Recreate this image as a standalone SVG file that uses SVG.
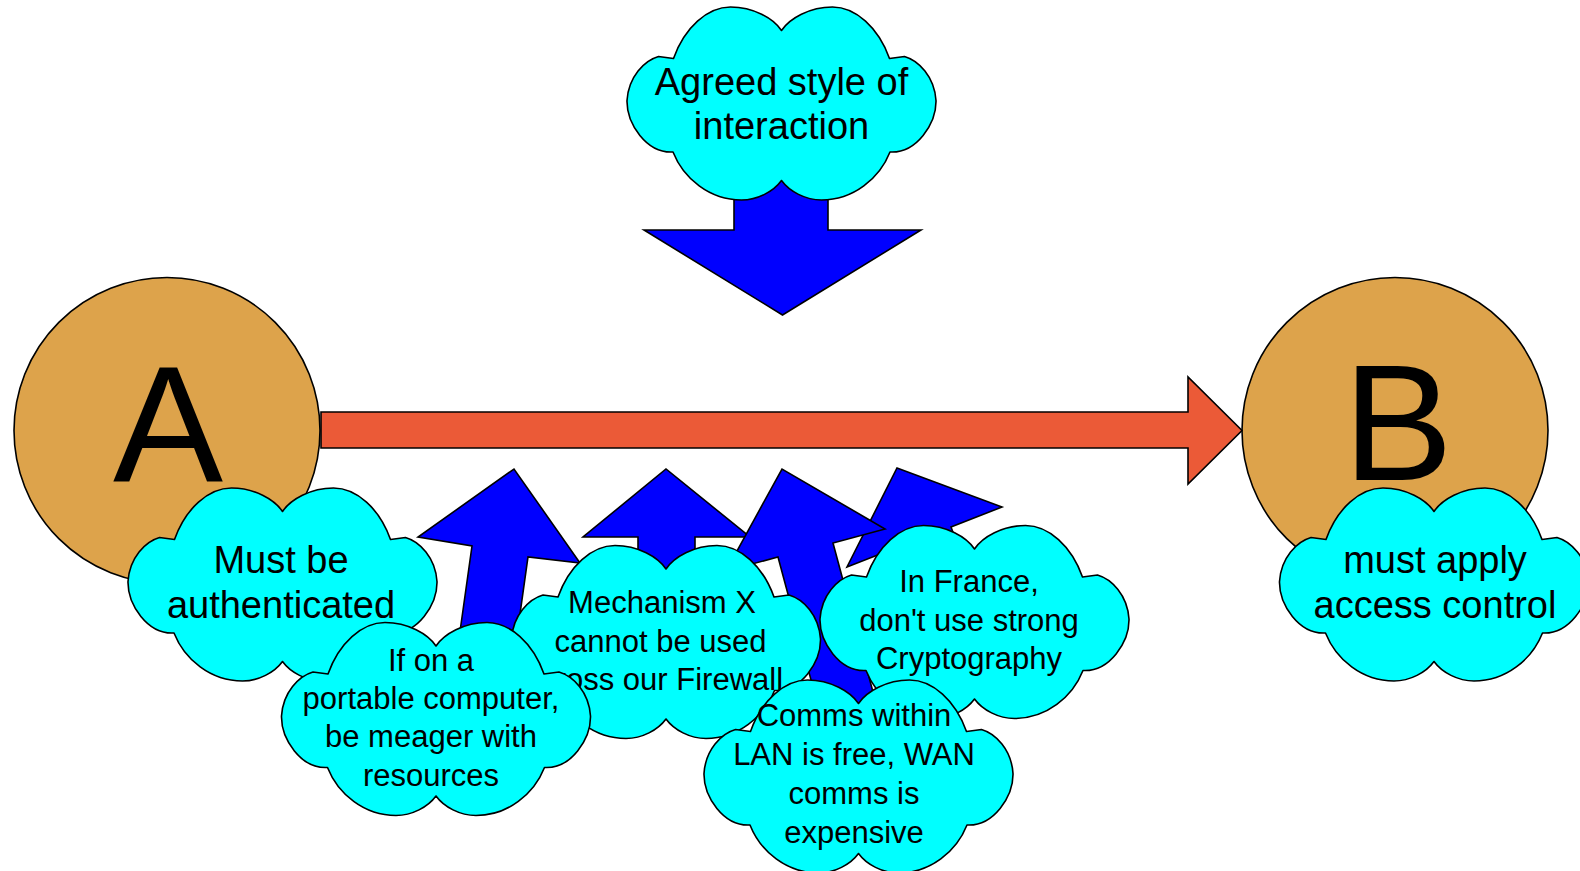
<svg xmlns="http://www.w3.org/2000/svg" width="1580" height="871" viewBox="0 0 1580 871">
  <style>
    .cloud { fill: #00FFFF; stroke: #000; stroke-width: 1.6; stroke-linejoin: round; }
    .node { fill: #DDA34B; stroke: #000; stroke-width: 1.6; }
    .flow { fill: #0000FF; stroke: #000; stroke-width: 1.6; stroke-linejoin: miter; }
    .link { fill: #EB5A37; stroke: #000; stroke-width: 1.6; stroke-linejoin: miter; }
    text { font-family: "Liberation Sans", Arial, sans-serif; fill: #000; text-anchor: middle; }
    .big { font-size: 165px; }
    .t38 { font-size: 38px; }
    .t31 { font-size: 31px; }
  </style>
  <defs>
    <!-- cloud callout, 308 x 193, centred on the origin -->
    <path id="cloud" d="M0,-73 C-8,-85 -28,-96.5 -51,-96.5 C-74,-96.5 -97,-76 -108,-45 L-123,-47 C-137,-43 -153,-27 -154.5,-3 C-155,20 -135,50 -108.5,48.5 C-98,75 -72,96.5 -40,96.5 C-24,96.5 -8,88 0,77 C8,88 24,96.5 40,96.5 C72,96.5 98,75 108.5,48.5 C135,50 155,20 154.5,-3 C153,-27 137,-43 123,-47 L108,-45 C97,-76 74,-96.5 51,-96.5 C28,-96.5 8,-85 0,-73 Z"/>
  </defs>

  <!-- endpoints -->
  <g id="node-a">
    <circle class="node" cx="167" cy="430.5" r="153"/>
    <text class="big" x="168" y="481">A</text>
  </g>
  <g id="node-b">
    <circle class="node" cx="1395" cy="430.5" r="153"/>
    <text class="big" x="1398" y="480">B</text>
  </g>

  <!-- connectors -->
  <g id="connectors">
    <!-- A to B -->
    <polygon class="link" points="321,412 1188,412 1188,377 1242,430.5 1188,484 1188,448 321,448"/>
    <!-- agreed style pushes down on the interaction -->
    <polygon class="flow" points="734,150 828,150 828,230 921,230 782.5,315 644,230 734,230"/>
    <!-- constraints pushing up on the interaction -->
    <polygon class="flow" points="447,724 472,546 418,537 514,469 580,563 528,557 503,735"/>
    <polygon class="flow" points="638,700 638,537 583,537 666,469 750,537 695,537 695,700"/>
    <polygon class="flow" points="948,678 898,547 847,567 897,468 1002,507 951,527 1001,658"/>
    <polygon class="flow" points="837.6,779 778,557 726,571 782,469 885,529 833,543 892.6,765"/>
  </g>

  <!-- requirement clouds -->
  <g id="cloud-agreed">
    <use href="#cloud" class="cloud" transform="translate(781.5,103.5)"/>
    <text class="t38" x="781.5" y="94.5">Agreed style of</text>
    <text class="t38" x="781.5" y="139">interaction</text>
  </g>
  <g id="cloud-auth">
    <use href="#cloud" class="cloud" transform="translate(282.5,584.5)"/>
    <text class="t38" x="281" y="573">Must be</text>
    <text class="t38" x="281" y="618">authenticated</text>
  </g>
  <g id="cloud-access">
    <use href="#cloud" class="cloud" transform="translate(1434,584.5)"/>
    <text class="t38" x="1435" y="573">must apply</text>
    <text class="t38" x="1435" y="618">access control</text>
  </g>
  <g id="cloud-mechanism">
    <use href="#cloud" class="cloud" transform="translate(666,642)"/>
    <text class="t31" x="662" y="613">Mechanism X</text>
    <text class="t31" x="660.5" y="651.5">cannot be used</text>
    <text class="t31" x="653" y="690">across our Firewall</text>
  </g>
  <g id="cloud-france">
    <use href="#cloud" class="cloud" transform="translate(974.5,622)"/>
    <text class="t31" x="969" y="592">In France,</text>
    <text class="t31" x="969" y="630.5">don't use strong</text>
    <text class="t31" x="969" y="668.5">Cryptography</text>
  </g>
  <g id="cloud-portable">
    <use href="#cloud" class="cloud" transform="translate(436,719)"/>
    <text class="t31" x="431" y="671">If on a</text>
    <text class="t31" x="431" y="709">portable computer,</text>
    <text class="t31" x="431" y="747">be meager with</text>
    <text class="t31" x="431" y="785.5">resources</text>
  </g>
  <g id="cloud-comms">
    <use href="#cloud" class="cloud" transform="translate(858.5,776.5)"/>
    <text class="t31" x="854" y="726">Comms within</text>
    <text class="t31" x="854" y="765">LAN is free, WAN</text>
    <text class="t31" x="854" y="804">comms is</text>
    <text class="t31" x="854" y="843">expensive</text>
  </g>
</svg>
